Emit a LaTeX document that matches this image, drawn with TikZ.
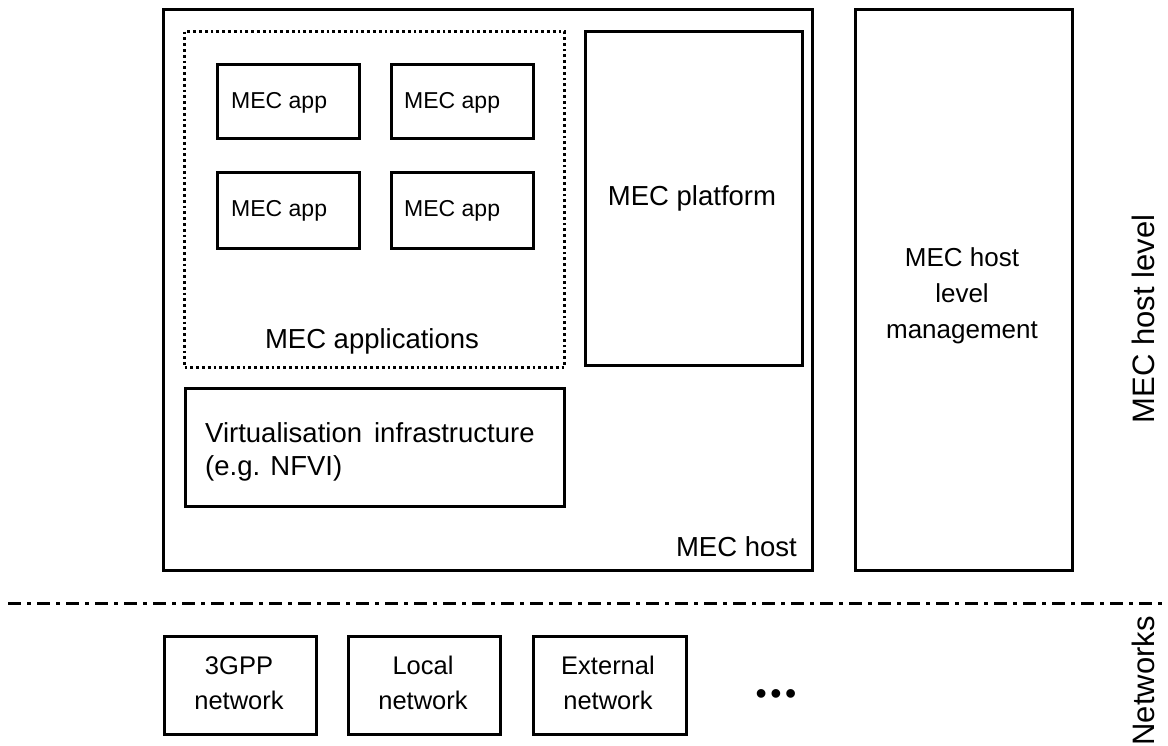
\documentclass[tikz,border=0pt]{standalone}
\usepackage{fontspec}
\setmainfont{Liberation Sans}
\begin{document}
\begin{tikzpicture}[x=1pt,y=-1pt,
  box/.style={draw=black, line width=3pt, anchor=north west, inner sep=0pt},
  appbox/.style={box, line width=2.6pt},
  dotbox/.style={draw=black, line width=3pt, dash pattern=on 2.8pt off 3pt, anchor=north west, inner sep=0pt},
  lbl/.style={inner sep=0pt, text=black},
  applbl/.style={lbl, font=\fontsize{23}{27}\selectfont},
  biglbl/.style={lbl, font=\fontsize{27.5}{33}\selectfont},
  netlbl/.style={lbl, align=center, font=\fontsize{25.5}{35}\selectfont},
  sidelbl/.style={lbl, rotate=90, font=\fontsize{31}{36}\selectfont},
  divider/.style={line width=3pt, dash pattern=on 13pt off 6pt on 4pt off 6pt}
]
\useasboundingbox (0,0) rectangle (1168,746);

% MEC host and its contents
\node[box, minimum width=649pt, minimum height=561pt] (host) at (162,8) {};
\node[dotbox, minimum width=380pt, minimum height=336pt] (apps) at (183,30) {};
\node[appbox, minimum width=142pt, minimum height=74pt] (app1) at (216,63) {};
\node[appbox, minimum width=142pt, minimum height=74pt] (app2) at (390,63) {};
\node[appbox, minimum width=142pt, minimum height=76pt] (app3) at (216,171) {};
\node[appbox, minimum width=142pt, minimum height=76pt] (app4) at (390,171) {};
\node[applbl, anchor=west] (t1) at (231,103) {MEC app};
\node[applbl, anchor=west] (t2) at (404,103) {MEC app};
\node[applbl, anchor=west] (t3) at (231,211) {MEC app};
\node[applbl, anchor=west] (t4) at (404,211) {MEC app};
\node[biglbl] (appsname) at (372,341) {MEC applications};

\node[box, minimum width=217pt, minimum height=334pt] (platform) at (584,30) {};
\node[biglbl] (platname) at (692,198) {MEC platform};

\node[box, minimum width=379pt, minimum height=118pt] (virt) at (184,387) {};
\node[biglbl, anchor=north west, align=left] (virtname) at (205,422)
  {Virtualisation\hspace{12pt}infrastructure\\(e.g. NFVI)};

\node[biglbl, anchor=east] (hostname) at (797,547) {MEC host};

% Host level management
\node[box, minimum width=217pt, minimum height=561pt] (mgmt) at (854,8) {};
\node[biglbl, align=center, font=\fontsize{26}{36}\selectfont] (mgmtname) at (962,296)
  {MEC host\\level\\management};

% Separator between the host level and the networks
\coordinate (divL) at (8,603);
\coordinate (divR) at (1168,603);
\draw[divider] (divL) -- (divR);

% Networks
\node[box, minimum width=152pt, minimum height=98pt] (n3gpp) at (163,635) {};
\node[box, minimum width=152pt, minimum height=98pt] (nlocal) at (347,635) {};
\node[box, minimum width=153pt, minimum height=98pt] (next) at (532,635) {};
\node[netlbl] (l3gpp) at (239,683) {3GPP\\network};
\node[netlbl] (llocal) at (423,683) {Local\\network};
\node[netlbl] (lext) at (608,683) {External\\network};
\node[lbl, font=\fontsize{32}{32}\selectfont] (more) at (776,697) {•\hspace{3.5pt}•\hspace{3.5pt}•};

% Level labels
\node[sidelbl] (levelname) at (1143,319) {MEC host level};
\node[sidelbl] (netname) at (1143,681) {Networks};
\end{tikzpicture}
\end{document}
